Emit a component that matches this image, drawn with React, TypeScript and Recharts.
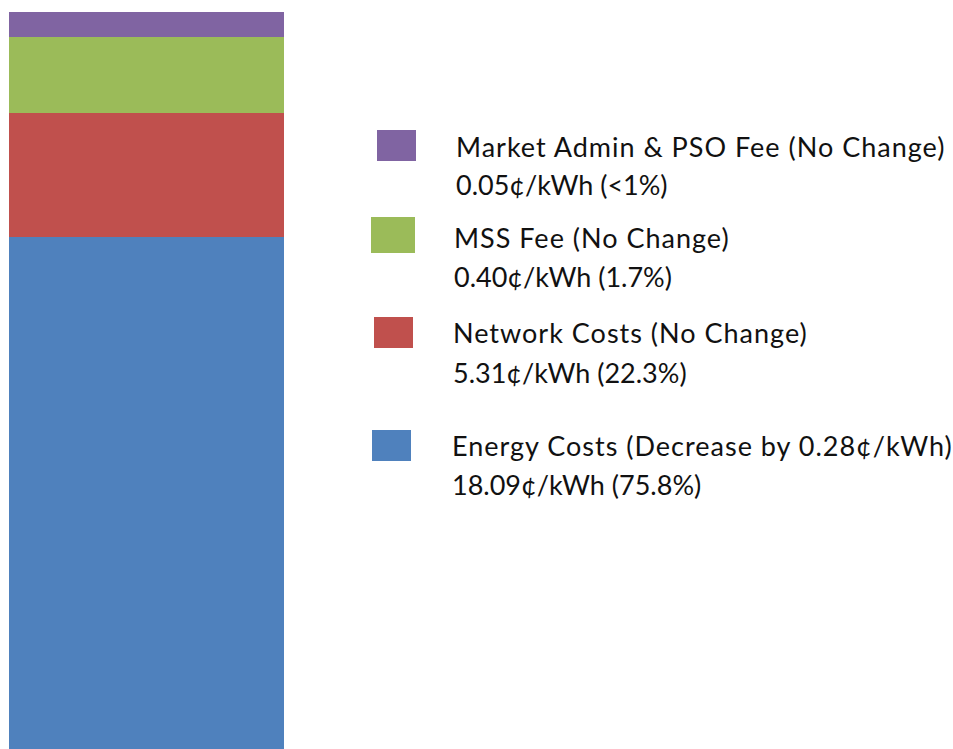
import { BarChart, Bar, XAxis, YAxis } from 'recharts';

// #region Sample data
const categories = ['Tariff'];
const seriesKeys = ['energy', 'network', 'mss', 'admin'];
const seriesNames = [
  'Energy Costs (Decrease by 0.28¢/kWh)',
  'Network Costs (No Change)',
  'MSS Fee (No Change)',
  'Market Admin & PSO Fee (No Change)',
];
const seriesDetails = ['18.09¢/kWh (75.8%)', '5.31¢/kWh (22.3%)', '0.40¢/kWh (1.7%)', '0.05¢/kWh (<1%)'];
// segment sizes as drawn in the picture (not to scale with the labels)
const segmentSizes = [512, 124, 76, 25];
// #endregion

const colors = ['#4F81BD', '#C0504D', '#9BBB59', '#8064A2'];

// legend item placement, same order as the series
const legendBoxes = [
  { x: 372, y: 430, w: 39, h: 31, tx: 452, ty: 456, dy: 39 },
  { x: 374, y: 317, w: 39, h: 31, tx: 453, ty: 343, dy: 40 },
  { x: 371, y: 217, w: 44, h: 36, tx: 454, ty: 248, dy: 39 },
  { x: 377, y: 130, w: 39, h: 31, tx: 456, ty: 157, dy: 38 },
];

const data = categories.map((name) => {
  const row: Record<string, string | number> = { name };
  seriesKeys.forEach((k, i) => {
    row[k] = segmentSizes[i];
  });
  return row;
});

const total = segmentSizes.reduce((a, b) => a + b, 0);

const LegendBlock = () => (
  <g fontFamily="Lato, 'Open Sans', sans-serif" fontSize={27} fill="#111">
    {seriesKeys.map((k, i) => {
      const b = legendBoxes[i];
      return (
        <g key={k}>
          <rect x={b.x} y={b.y} width={b.w} height={b.h} fill={colors[i]} />
          <text x={b.tx} y={b.ty} letterSpacing={1}>{seriesNames[i]}</text>
          <text x={b.tx} y={b.ty + b.dy}>{seriesDetails[i]}</text>
        </g>
      );
    })}
  </g>
);

const App = () => {
  return (
    <div style={{ position: 'absolute', left: 0, top: 0 }}>
      <BarChart
        width={953}
        height={749}
        data={data}
        barCategoryGap={0}
        margin={{ top: 12, right: 669, left: 9, bottom: 0 }}
      >
        <XAxis dataKey="name" hide />
        <YAxis hide domain={[0, total]} />
        {seriesKeys.map((k, i) => (
          <Bar key={k} dataKey={k} stackId="a" fill={colors[i]} isAnimationActive={false} />
        ))}
        <LegendBlock />
      </BarChart>
    </div>
  );
};

export default App;
